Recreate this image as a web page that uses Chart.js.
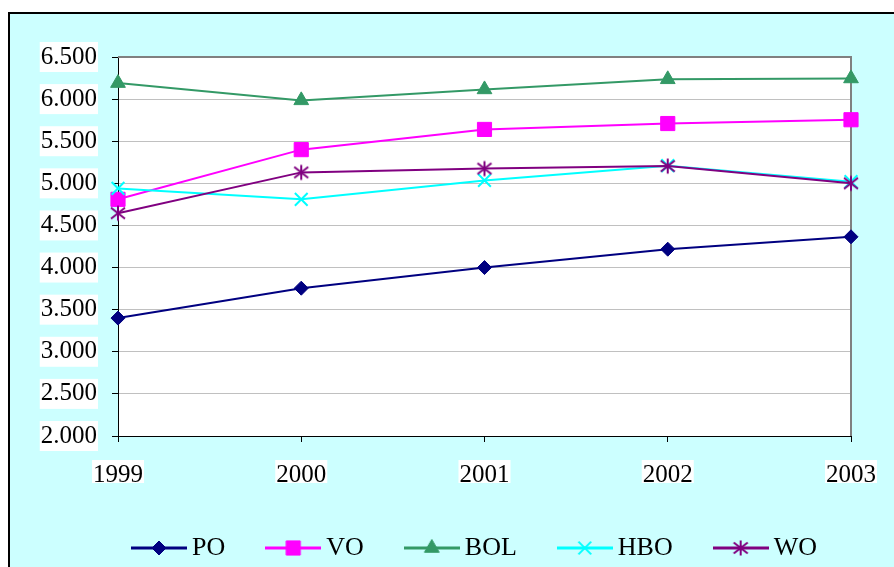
<!DOCTYPE html>
<html>
<head>
<meta charset="utf-8">
<script src="https://cdn.jsdelivr.net/npm/chart.js@4/dist/chart.umd.min.js"></script>
<style>
  html,body{margin:0;padding:0;background:#fff;}
  #wrap{width:894px;height:567px;}
</style>
</head>
<body>
<div id="wrap"><canvas id="chart" width="894" height="567"></canvas></div>
<script>
// jaren op de x-as
const years = ["1999", "2000", "2001", "2002", "2003"];
// waarden per onderwijssoort
const poValues  = [3400, 3755, 4000, 4218, 4365];
const voValues  = [4810, 5400, 5640, 5710, 5755];
const bolValues = [6190, 5985, 6115, 6235, 6245];
const hboValues = [4940, 4810, 5035, 5210, 5020];
const woValues  = [4645, 5130, 5175, 5205, 5000];

// sterretje zoals in Excel (X met verticale streep)
function starMarker(color){
    let c=document.createElement("canvas");
    c.width=18;c.height=18;
    let g=c.getContext("2d");
    g.strokeStyle=color;g.lineWidth=2;
    g.beginPath();
    g.moveTo(2,3.5);g.lineTo(16,14.5);
    g.moveTo(16,3.5);g.lineTo(2,14.5);
    g.moveTo(9,1.5);g.lineTo(9,16.5);
    g.stroke();
    return c;
}

const woStar=starMarker("#800080");

const datasets=[
    {label:"PO", data:poValues, borderColor:"#000080", backgroundColor:"#000080", pointStyle:"rectRot", pointRadius:7, order:4},
    {label:"VO", data:voValues, borderColor:"#FF00FF", backgroundColor:"#FF00FF", pointStyle:"rect", pointRadius:10, order:3},
    {label:"BOL", data:bolValues, borderColor:"#339966", backgroundColor:"#339966", pointStyle:"triangle", pointRadius:8.5, order:2},
    {label:"HBO", data:hboValues, borderColor:"#00FFFF", backgroundColor:"#00FFFF", pointStyle:"crossRot", pointRadius:9, pointBorderWidth:2, order:1},
    {label:"WO", data:woValues, borderColor:"#800080", backgroundColor:"#800080", pointStyle:woStar, order:0}
].map(d=>Object.assign({borderWidth:2, pointBorderWidth:1, tension:0, clip:false, fill:false}, d));

// legenda-plaatje: lijntje met marker
function legendImage(ds){
    let c=document.createElement("canvas");
    c.width=56;c.height=22;
    let g=c.getContext("2d");
    g.strokeStyle=ds.borderColor;g.lineWidth=3;
    g.beginPath();g.moveTo(0,11);g.lineTo(56,11);g.stroke();
    if(typeof ds.pointStyle==="string"){
        g.fillStyle=ds.backgroundColor;g.strokeStyle=ds.borderColor;
        g.lineWidth=ds.pointBorderWidth;
        Chart.helpers.drawPoint(g,{pointStyle:ds.pointStyle,radius:ds.pointRadius,rotation:0,borderWidth:ds.pointBorderWidth},28,11);
    }else{
        g.drawImage(ds.pointStyle,19,2);
    }
    return c;
}
const legendImages=datasets.map(legendImage);

const fmt=v=>v.toString().replace(/\B(?=(\d{3})+(?!\d))/g,".");

const LEGEND_FONT=26, LEGEND_BOX=40;

const backgroundPlugin={
    id:"excelBackground",
    beforeDraw(chart){
        const ctx=chart.ctx,a=chart.chartArea;
        ctx.save();
        ctx.fillStyle="#fff";ctx.fillRect(0,0,chart.width,chart.height);
        ctx.fillStyle="#CCFFFF";ctx.fillRect(8,13,chart.width-8,chart.height-13);
        ctx.strokeStyle="#000";ctx.lineWidth=2;
        ctx.beginPath();ctx.moveTo(9,chart.height);ctx.lineTo(9,13);ctx.lineTo(chart.width,13);ctx.stroke();
        ctx.fillStyle="#fff";ctx.fillRect(a.left,a.top,a.right-a.left,a.bottom-a.top);
        // witte achtergrond achter legendateksten
        const lg=chart.legend;
        if(lg&&lg.legendHitBoxes){
            ctx.font=LEGEND_FONT+"px 'Liberation Serif'";
            lg.legendHitBoxes.forEach((hb,i)=>{
                const tx=hb.left+LEGEND_BOX+LEGEND_FONT/2;
                const tw=ctx.measureText(lg.legendItems[i].text).width;
                const cy=hb.top+hb.height/2;
                ctx.fillRect(tx-1,cy-16,tw+2,31);
            });
        }
        ctx.restore();
    },
    beforeDatasetsDraw(chart){
        const ctx=chart.ctx,a=chart.chartArea;
        ctx.save();
        ctx.strokeStyle="#808080";ctx.lineWidth=2;
        ctx.beginPath();ctx.moveTo(a.left,a.top);ctx.lineTo(a.right,a.top);ctx.lineTo(a.right,a.bottom);ctx.stroke();
        ctx.restore();
    },
    afterUpdate(chart){
        // legenda zit links van het midden, zoals in het origineel
        const lg=chart.legend;
        lg.left=10;
        lg.right=946;
        lg.top=487;
        lg.bottom=571;
        if(lg.adjustHitBoxes) lg.adjustHitBoxes();
    }
};

Chart.defaults.font.family="'Liberation Serif','Times New Roman',serif";
Chart.defaults.color="#000";

new Chart(document.getElementById("chart"),{
    type:"line",
    data:{labels:years, datasets:datasets},
    options:{
        responsive:false,
        animation:false,
        events:[],
        layout:{padding:{left:10,top:57,right:38,bottom:0}},
        plugins:{
            tooltip:{enabled:false},
            legend:{
                position:"bottom",
                labels:{
                    font:{size:LEGEND_FONT},
                    usePointStyle:true,
                    pointStyleWidth:LEGEND_BOX,
                    padding:48,
                    generateLabels:function(chart){
                        return chart.data.datasets.map((ds,i)=>({
                            text:ds.label,
                            pointStyle:legendImages[i],
                            fillStyle:ds.backgroundColor,
                            strokeStyle:ds.borderColor,
                            lineWidth:0,
                            fontColor:"#000",
                            datasetIndex:i,
                            hidden:false
                        }));
                    }
                }
            }
        },
        scales:{
            x:{
                offset:false,
                border:{color:"#000",width:1},
                grid:{drawOnChartArea:false,drawTicks:true,tickLength:6,tickColor:"#000"},
                ticks:{font:{size:25},padding:18,maxRotation:0,
                    showLabelBackdrop:true,backdropColor:"#fff",backdropPadding:{x:1,y:0}},
                afterFit:function(scale){scale.height=47;}
            },
            y:{
                min:2000,max:6500,
                border:{color:"#000",width:1},
                grid:{color:"#c0c0c0",tickLength:6,tickColor:"#000"},
                ticks:{stepSize:500,font:{size:25},padding:15,callback:v=>fmt(v),
                    showLabelBackdrop:true,backdropColor:"#fff",backdropPadding:{x:1,y:0}},
                afterFit:function(scale){scale.width=108;}
            }
        }
    },
    plugins:[backgroundPlugin]
});
</script>
</body>
</html>
